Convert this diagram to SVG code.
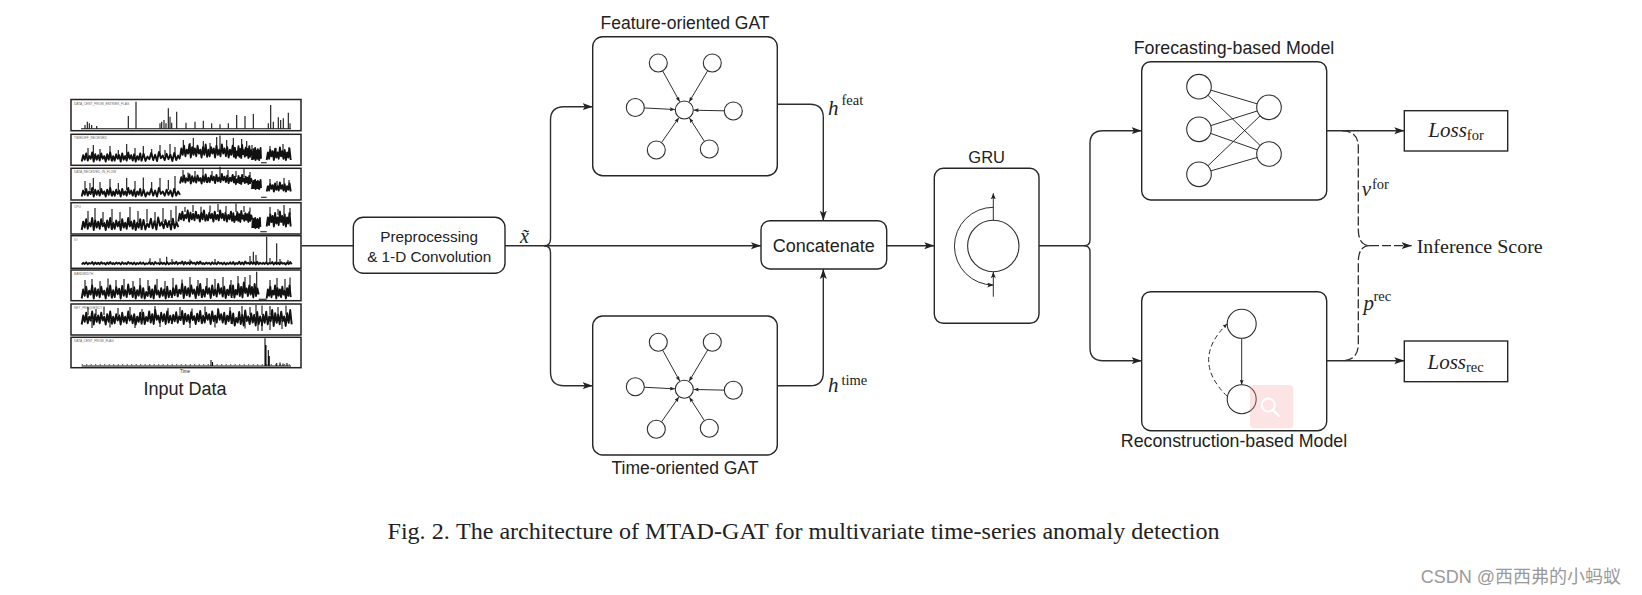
<svg xmlns="http://www.w3.org/2000/svg" xmlns:xlink="http://www.w3.org/1999/xlink" width="1642" height="595" viewBox="0 0 1642 595">
<style>
.bx{fill:#fff;stroke:#262626;stroke-width:1.4}
.ln{fill:none;stroke:#2e2e2e;stroke-width:1.4}
.dl{fill:none;stroke:#2e2e2e;stroke-width:1.3;stroke-dasharray:9 3}
.sans{font-family:"Liberation Sans",Arial,sans-serif;fill:#222}
.serif{font-family:"Liberation Serif","Times New Roman",serif;fill:#222}
.nd{fill:#fff;stroke:#2e2e2e;stroke-width:1.1}
.ed{fill:none;stroke:#2e2e2e;stroke-width:1}
.ts{fill:none;stroke:#111;stroke-width:1.9;stroke-linejoin:round;vector-effect:non-scaling-stroke}
.sp{fill:none;stroke:#111;stroke-width:1.1}
.pf{fill:#fff;stroke:#222;stroke-width:1.5}
.pl{font-family:"Liberation Sans",sans-serif;font-size:3.2px;fill:#666}
</style>
<defs>
<marker id="arr" markerUnits="userSpaceOnUse" viewBox="0 0 10 8" markerWidth="10" markerHeight="8" refX="10" refY="4" orient="auto"><path d="M0,0.5L10,4L0,7.5L2.2,4z" fill="#222"/></marker>
<marker id="arrS" markerUnits="userSpaceOnUse" viewBox="0 0 6 5" markerWidth="6" markerHeight="5" refX="6" refY="2.5" orient="auto"><path d="M0,0L6,2.5L0,5L1.2,2.5z" fill="#222"/></marker>
<marker id="arrT" markerUnits="userSpaceOnUse" viewBox="0 0 5 4" markerWidth="5" markerHeight="4" refX="5" refY="2" orient="auto"><path d="M0,0L5,2L0,4L1,2z" fill="#222"/></marker>
<path id="mA" class="ts" vector-effect="non-scaling-stroke" d="M0,0L1.5,-7L3,-2L4.5,-9L6,-1L7.5,-6L9,-3L10.5,-10L12,0L13.5,-8L15,-2L16.5,-7L18,-1L19.5,-9L21,-3L22.5,-6L24,0L25.5,-8L27,-2L28.5,-10L30,-1"/>
<path id="mB" class="ts" vector-effect="non-scaling-stroke" d="M0,0L1.5,-6L3,-1L4.5,-8L6,-3L7.5,-7L9,0L10.5,-9L12,-2L13.5,-6L15,-1L16.5,-10L18,-3L19.5,-7L21,-1L22.5,-8L24,0L25.5,-6L27,-2L28.5,-9L30,0"/>
<path id="mC" class="ts" vector-effect="non-scaling-stroke" d="M0,-1L1.5,-8L3,0L4.5,-5L6,-2L7.5,-9L9,-1L10.5,-7L12,0L13.5,-10L15,-3L16.5,-6L18,-1L19.5,-8L21,-2L22.5,-7L24,0L25.5,-9L27,-1L28.5,-6L30,-2"/>
<g id="gat">
<g class="ed" marker-end="url(#arrT)">
<path d="M-21.64,-39.12L-4.6,-8.31"/>
<path d="M23.4,-39.27L4.86,-8.16"/>
<path d="M-40.01,-2.04L-9.49,-0.48"/>
<path d="M40,0.82L9.5,0.19"/>
<path d="M-22.84,32.63L-5.45,7.78"/>
<path d="M20.14,31.42L5.13,8"/>
</g>
<circle class="nd" cx="0" cy="0" r="9"/>
<circle class="nd" cx="-26" cy="-47" r="9"/>
<circle class="nd" cx="28" cy="-47" r="9"/>
<circle class="nd" cx="-49" cy="-2.5" r="9"/>
<circle class="nd" cx="49" cy="1" r="9"/>
<circle class="nd" cx="-28" cy="40" r="9"/>
<circle class="nd" cx="25" cy="39" r="9"/>
</g>
</defs>
<rect width="1642" height="595" fill="#fff"/>

<g id="input-data">
<rect class="pf" x="71" y="99.5" width="230" height="31.2"/>
<rect class="pf" x="71" y="134.3" width="230" height="31"/>
<rect class="pf" x="71" y="168.3" width="230" height="31.7"/>
<rect class="pf" x="71" y="202.7" width="230" height="31.3"/>
<rect class="pf" x="71" y="235.7" width="230" height="32.6"/>
<rect class="pf" x="71" y="270" width="230" height="30.7"/>
<rect class="pf" x="71" y="304" width="230" height="31"/>
<rect class="pf" x="71" y="337.3" width="230" height="30.4"/>
<text class="pl" x="74" y="104.5">DATA_CENT_FROM_ENTRIES_FLAG</text>
<text class="pl" x="74" y="139.3">TIMEDIFF_RECEIVED</text>
<text class="pl" x="74" y="173.3">DATA_RECEIVED_IN_FLOW</text>
<text class="pl" x="74" y="207.7">CPU</text>
<text class="pl" x="74" y="240.7">IO</text>
<text class="pl" x="74" y="275">BANDWIDTH</text>
<text class="pl" x="74" y="309">NET_FREQUENCY</text>
<text class="pl" x="74" y="342.3">DATA_CENT_FROM_FLAG</text>
<!-- panel 1 -->
<path class="sp" stroke-width="1" d="M81,128.7H291"/>
<path class="sp" d="M85,128.7V125M87.3,128.7V121.7M89.3,128.7V123.3M91.7,128.7V125M96.7,128.7V126M128.3,128.7V116M136,128.7V101.7M160,128.7V123.3M161.7,128.7V121.7M164,128.7V120M166,128.7V123.3M168.3,128.7V108.3M170,128.7V116.7M171.7,128.7V122.7M176.7,128.7V111.7M186,128.7V122.7M195,128.7V121.7M203.3,128.7V120.7M211.7,128.7V123.3M220,128.7V124.3M228.3,128.7V123.3M236.7,128.7V115M245,128.7V116M253.3,128.7V114M268.3,128.7V123.3M270.7,128.7V105M273.3,128.7V121.7M278.3,128.7V117.3M280.7,128.7V120M283.3,128.7V118.3M288.3,128.7V112.7M290,128.7V123.3"/>
<!-- panel 2 -->
<use href="#mA" transform="translate(81.7,161.5) scale(1,0.9)"/>
<use href="#mB" transform="translate(111.7,161.5) scale(1,0.9)"/>
<use href="#mC" transform="translate(141.7,161) scale(1.277,0.9)"/>
<use href="#mA" transform="translate(180,157.5) scale(0.9,1.3)"/>
<use href="#mB" transform="translate(207,157.5) scale(0.9,1.3)"/>
<use href="#mC" transform="translate(234,158) scale(0.6,1.3)"/>
<use href="#mA" transform="translate(252,160) scale(0.3,1.2)"/>
<use href="#mB" transform="translate(266.7,160) scale(0.8,1.25)"/>
<path class="sp" d="M261,162.7H266.7M88,156V148M93.3,156V145M100,156V149M110,156V146M118.3,156V150M126.7,156V144M135,156V148M143.3,156V146M151.7,156V149M160,156V145M165,156V150M170,156V144M175,156V147M183.3,150V140M190,150V143M193.3,150V138M203.3,150V141M210,150V143M216.7,150V137M220,150V135.5M226.7,150V140M233.3,150V138M241.7,150V139M246.7,150V141M252,150V145M270,152V146M276,152V148M283,152V144M289,152V147"/>
<!-- panel 3 -->
<use href="#mA" transform="translate(81.7,196.5) scale(1,0.85)"/>
<use href="#mB" transform="translate(111.7,196.5) scale(1,0.85)"/>
<use href="#mC" transform="translate(141.7,196.5) scale(1.277,0.85)"/>
<use href="#mA" transform="translate(180,183.5) scale(0.9,0.9)"/>
<use href="#mB" transform="translate(207,183) scale(0.9,0.9)"/>
<use href="#mC" transform="translate(234,184) scale(0.6,0.9)"/>
<use href="#mA" transform="translate(252,189) scale(0.3,0.9)"/>
<use href="#mB" transform="translate(266.7,191.5) scale(0.8,0.9)"/>
<path class="sp" d="M261,197.3H266.7M85,190V181M90,190V183M93.3,190V178M100,190V182M110,190V179M118.3,190V183M126.7,190V178M135,190V181M143.3,190V177.5M151.7,190V182M160,190V178M168.3,190V180M175,190V176M183,177V170M188,177V172.5M195,177V171M203,177V169M212,177V171M220,177V166.7M228,177V170M236,177V171M244,177V169M250,177V172M270,185V179M277,185V181M284,185V178M289,185V180"/>
<!-- panel 4 -->
<use href="#mA" transform="translate(81.7,230) scale(1,1.2)"/>
<use href="#mB" transform="translate(111.7,230) scale(1,1.2)"/>
<use href="#mC" transform="translate(141.7,229.5) scale(1.22,1.2)"/>
<use href="#mA" transform="translate(178.3,221.5) scale(0.9,1.1)"/>
<use href="#mB" transform="translate(205.3,221.5) scale(0.9,1.1)"/>
<use href="#mC" transform="translate(232.3,222) scale(0.667,1.1)"/>
<use href="#mA" transform="translate(252.3,228) scale(0.267,1)"/>
<use href="#mB" transform="translate(266.7,226.5) scale(0.8,1.5)"/>
<path class="sp" d="M260.3,231.7H266.7M88,222V211M95,222V208M103,222V212M112,222V209M120,222V212M130,222V207M138,222V211M147,222V209M155,222V212M163,222V208M171,222V210M176,222V206M185,212V207M193,212V205M201,212V206.7M210,212V205.5M218,212V204M226,212V206M236,212V203.5M244,212V206M250,212V207.5M270,215V207M278,215V209M284,215V205M290,215V208"/>
<!-- panel 5 -->
<use href="#mA" transform="translate(81.7,264.5) scale(1,0.25)"/>
<use href="#mB" transform="translate(111.7,264.5) scale(1,0.25)"/>
<use href="#mC" transform="translate(141.7,264.5) scale(1,0.25)"/>
<use href="#mA" transform="translate(171.7,264.5) scale(1,0.3)"/>
<use href="#mB" transform="translate(201.7,264.5) scale(1,0.25)"/>
<use href="#mC" transform="translate(231.7,264.5) scale(1,0.3)"/>
<use href="#mA" transform="translate(261.7,264.5) scale(1,0.25)"/>
<path class="sp" d="M150,263.5V258.3M160,263.5V258.3M166.7,263.5V256.7M172,263.5V259M190,263.5V259.5M215,263.5V259M250,263.5V256M253.3,263.5V251.7M256,263.5V255M266.7,263.5V236.7M270,263.5V258M276.7,263.5V243.3M280,263.5V259M288,263.5V260"/>
<!-- panel 6 -->
<use href="#mA" transform="translate(81.7,298.5) scale(1,1.3)"/>
<use href="#mB" transform="translate(111.7,298.5) scale(1,1.4)"/>
<use href="#mC" transform="translate(141.7,298.5) scale(1,1.3)"/>
<use href="#mA" transform="translate(171.7,298) scale(1,1.4)"/>
<use href="#mB" transform="translate(201.7,298) scale(1,1.4)"/>
<use href="#mC" transform="translate(231.7,297.5) scale(0.9,1.5)"/>
<use href="#mA" transform="translate(266.7,298.5) scale(0.8,1.3)"/>
<path class="sp" d="M258.7,299.3H266.7M85,290V280M92,290V279M100,290V281M108,290V278.5M116,290V280M124,290V279M133,290V281M140,290V278M148,290V280M157,290V279M165,290V281M173,290V278M182,290V279.5M190,290V277M198,290V280M207,290V278M215,290V279M223,290V277M231,290V280M238,290V276M245,290V277M250,290V275M256.7,290V271.7M270,290V280M277,290V278M285,290V279M290,290V277.5"/>
<!-- panel 7 -->
<use href="#mA" transform="translate(81.7,324.5) scale(1,1.3)"/>
<use href="#mB" transform="translate(111.7,324.5) scale(1,1.3)"/>
<use href="#mC" transform="translate(141.7,324) scale(1,1.4)"/>
<use href="#mA" transform="translate(171.7,324) scale(1,1.3)"/>
<use href="#mB" transform="translate(201.7,324) scale(1,1.4)"/>
<use href="#mC" transform="translate(231.7,325.5) scale(1,1.5)"/>
<use href="#mA" transform="translate(261.7,326) scale(1,1.6)"/>
<path class="sp" d="M88,315V307M96,315V309M104,315V306.5M118,315V308M130,315V307M142,315V309M155,315V306M168,315V308M180,315V307M192,315V308.5M205,315V306.5M218,315V308M230,315V307M242,315V306M250,315V307M256,315V305M262,315V305.5M270,315V306M278,315V307M286,315V305.5M92,320V328M110,320V327.5M135,320V328M160,320V327M190,320V328M215,320V327.5M245,320V328.5M258,320V330.7M262,320V331M270,320V330M282,320V329"/>
<!-- panel 8 -->
<path class="sp" stroke-width="1" d="M81.7,366H291"/>
<path class="sp" stroke-width="1.2" stroke-dasharray="1 3.5" d="M81.7,364.8H291"/>
<path class="sp" d="M211,366V360M212.5,366V362M265,366V338.3M266,366V345M268.3,366V350M269.3,366V356M276.7,366V363M280,366V362.5M283,366V363.5M287,366V363"/>
<text class="sans" x="185" y="373" font-size="4.5" text-anchor="middle" fill="#555">Time</text>
<text class="sans" x="185" y="395" font-size="18" text-anchor="middle">Input Data</text>
</g>

<g id="connectors">
<path class="ln" d="M301.6,245.7H353.3"/>
<path class="ln" d="M505,245.7H761" marker-end="url(#arr)"/>
<path class="ln" d="M544,245.7Q550.5,245.7 550.5,239V120Q550.5,106.7 564,106.7H592.7" marker-end="url(#arr)"/>
<path class="ln" d="M544,245.7Q550.5,245.7 550.5,252.4V372Q550.5,385.7 564,385.7H592.7" marker-end="url(#arr)"/>
<path class="ln" d="M777.3,104.3H810Q823.3,104.3 823.3,117.6V220.7" marker-end="url(#arr)"/>
<path class="ln" d="M777.3,385.7H810Q823.3,385.7 823.3,372.4V269" marker-end="url(#arr)"/>
<path class="ln" d="M886.7,245.7H934.3" marker-end="url(#arr)"/>
<path class="ln" d="M1039,245.7H1084"/>
<path class="ln" d="M1084,245.7Q1090,245.7 1090,239.7V143.4Q1090,130.7 1103,130.7H1141.7" marker-end="url(#arr)"/>
<path class="ln" d="M1084,245.7Q1090,245.7 1090,251.7V348Q1090,360.7 1103,360.7H1141.7" marker-end="url(#arr)"/>
<path class="ln" d="M1326.7,130.7H1404.3" marker-end="url(#arr)"/>
<path class="ln" d="M1326.7,360.7H1404.3" marker-end="url(#arr)"/>
<path class="dl" d="M1341.7,130.7Q1358.3,130.7 1358.3,147V229Q1358.3,245.7 1370,245.7"/>
<path class="dl" d="M1370,245.7Q1358.3,245.7 1358.3,262V344Q1358.3,360.7 1341.7,360.7"/>
<path class="dl" stroke-dasharray="8 4" d="M1370,245.7H1411.7" marker-end="url(#arr)"/>
</g>

<g id="preprocessing">
<rect class="bx" x="353.3" y="217.3" width="151.7" height="56" rx="10"/>
<text class="sans" x="429.2" y="241.5" font-size="15.3" text-anchor="middle">Preprocessing</text>
<text class="sans" x="429.2" y="261.5" font-size="15.3" text-anchor="middle">&amp; 1-D Convolution</text>
</g>
<g id="x-tilde">
<text class="serif" x="520" y="243" font-size="20" font-style="italic">x̃</text>
</g>

<g id="feature-gat">
<text class="sans" x="685" y="28.5" font-size="17.5" text-anchor="middle">Feature-oriented GAT</text>
<rect class="bx" x="592.7" y="36.7" width="184.6" height="139" rx="10"/>
<use href="#gat" transform="translate(684.3,110)"/>
</g>
<g id="time-gat">
<rect class="bx" x="592.7" y="316" width="184.6" height="139" rx="10"/>
<use href="#gat" transform="translate(684.3,389.3)"/>
<text class="sans" x="685" y="473.5" font-size="17.5" text-anchor="middle">Time-oriented GAT</text>
</g>
<g id="h-labels">
<text class="serif" x="828" y="115" font-size="21" font-style="italic">h</text>
<text class="serif" x="841.5" y="104.5" font-size="14.5">feat</text>
<text class="serif" x="828" y="392" font-size="21" font-style="italic">h</text>
<text class="serif" x="841.5" y="384.5" font-size="14.5">time</text>
</g>

<g id="concatenate">
<rect class="bx" x="761" y="220.7" width="125.7" height="48.3" rx="9"/>
<text class="sans" x="823.8" y="252" font-size="18" text-anchor="middle">Concatenate</text>
</g>

<g id="gru">
<text class="sans" x="986.7" y="163.3" font-size="16.5" text-anchor="middle">GRU</text>
<rect class="bx" x="934.3" y="168.3" width="104.7" height="155" rx="9"/>
<circle class="nd" cx="993.3" cy="246" r="25.7"/>
<path class="ed" d="M993.3,207.3A38.8,38.8 0 0 0 993.3,285" marker-end="url(#arrS)"/>
<path class="ed" d="M993.3,220.3V193.3" marker-end="url(#arrS)"/>
<path class="ed" d="M993.3,296.7V272" marker-end="url(#arrS)"/>
</g>

<g id="forecasting-model">
<text class="sans" x="1234" y="53.5" font-size="17.8" text-anchor="middle">Forecasting-based Model</text>
<rect class="bx" x="1141.7" y="61.7" width="185" height="138.3" rx="9"/>
<path class="ed" d="M1199,86.7L1269,107.3M1199,86.7L1269,154M1199,129.3L1269,107.3M1199,129.3L1269,154M1199,174.3L1269,107.3M1199,174.3L1269,154"/>
<circle class="nd" cx="1199" cy="86.7" r="12.3"/>
<circle class="nd" cx="1199" cy="129.3" r="12.3"/>
<circle class="nd" cx="1199" cy="174.3" r="12.3"/>
<circle class="nd" cx="1269" cy="107.3" r="12.3"/>
<circle class="nd" cx="1269" cy="154" r="12.3"/>
</g>

<g id="reconstruction-model">
<rect class="bx" x="1141.7" y="291.7" width="185" height="139" rx="9"/>
<circle class="nd" cx="1241.7" cy="323.8" r="14.5"/>
<circle class="nd" cx="1241.7" cy="399.2" r="14.5"/>
<path class="ed" d="M1241.7,338.3V384.7" marker-end="url(#arrT)"/>
<path class="ed" stroke-dasharray="5 3" d="M1227.4,396.5Q1190,360 1227.2,323.8" marker-end="url(#arrT)"/>
<text class="sans" x="1234" y="446.5" font-size="17.8" text-anchor="middle">Reconstruction-based Model</text>
<rect x="1250" y="385" width="43.3" height="43.3" rx="4" fill="#f4a6a6" fill-opacity="0.3"/>
<circle cx="1268.3" cy="405" r="6.5" fill="none" stroke="#fff" stroke-width="2"/>
<path d="M1273,410L1279,416" stroke="#fff" stroke-width="2.2" stroke-linecap="round"/>
</g>

<g id="loss-for">
<rect class="bx" x="1404.3" y="110.7" width="103.4" height="40.3"/>
<text class="serif" x="1428.3" y="137" font-size="21"><tspan font-style="italic">Loss</tspan><tspan font-size="14.5" dy="3">for</tspan></text>
</g>
<g id="loss-rec">
<rect class="bx" x="1404.3" y="341" width="103.4" height="40.7"/>
<text class="serif" x="1427.5" y="368.5" font-size="21"><tspan font-style="italic">Loss</tspan><tspan font-size="14.5" dy="3">rec</tspan></text>
</g>
<g id="score-labels">
<text class="serif" x="1361.7" y="196" font-size="21" font-style="italic">v</text>
<text class="serif" x="1372" y="189" font-size="14.5">for</text>
<text class="serif" x="1363.5" y="309.5" font-size="21" font-style="italic">p</text>
<text class="serif" x="1373.5" y="301" font-size="14.5">rec</text>
</g>
<g id="inference-score">
<text class="serif" x="1416.7" y="253.3" font-size="18.5" textLength="126" lengthAdjust="spacingAndGlyphs">Inference Score</text>
</g>

<text class="serif" x="387.5" y="539" font-size="23" textLength="832" lengthAdjust="spacingAndGlyphs">Fig. 2.<tspan dx="6">The architecture of MTAD-GAT for multivariate time-series anomaly detection</tspan></text>
<text x="1420.7" y="583" font-size="18" fill="#9a9a9a" font-family="'Liberation Sans','Noto Sans CJK SC',sans-serif">CSDN @西西弗的小蚂蚁</text>
</svg>
